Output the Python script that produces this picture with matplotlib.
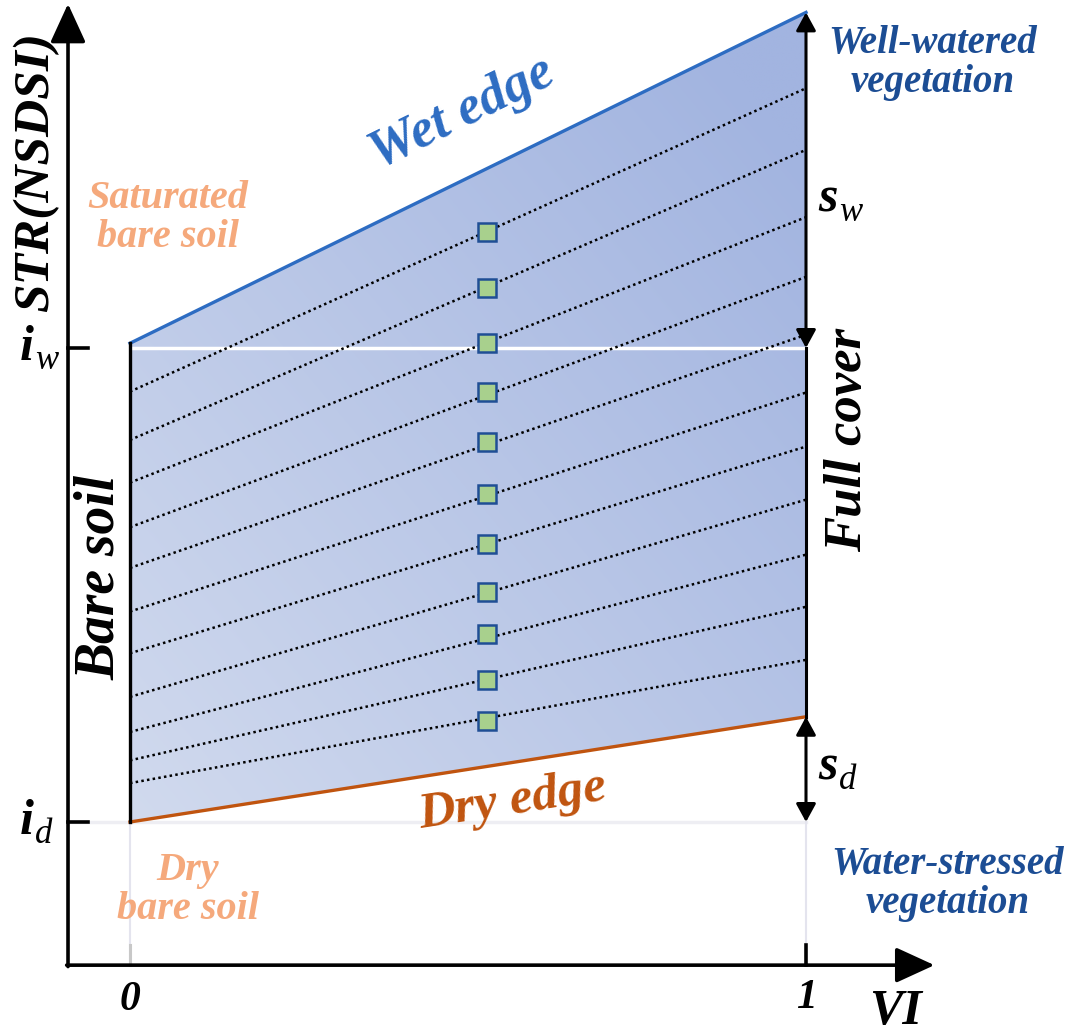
import numpy as np
import matplotlib
matplotlib.use("Agg")
import matplotlib.pyplot as plt
from matplotlib.patches import Polygon

# Trapezoid (VI on x, STR on y)
vi_edges = [0.0, 1.0]
wet_edge = [0.705, 1.054]
dry_edge = [0.200, 0.311]
i_w = 0.70
i_d = 0.20

# dotted iso-lines: value at VI=0 and VI=1
iso_left = [0.654, 0.603, 0.558, 0.511, 0.468, 0.422, 0.378, 0.332, 0.295, 0.265, 0.241]
iso_right = [0.974, 0.909, 0.838, 0.775, 0.714, 0.653, 0.596, 0.540, 0.482, 0.427, 0.371]

# green squares
sq_vi = 0.528
sq_str = [0.822, 0.763, 0.705, 0.654, 0.601, 0.546, 0.493, 0.443, 0.398, 0.350, 0.307]

# axes extents
ax_x0, ax_x1 = -0.0917, 1.19
ax_y0, ax_y1 = 0.049, 1.063

FONT = dict(family='Liberation Serif', weight='bold', style='italic')
SUBFONT = dict(family='Liberation Serif', style='italic')
SALMON = '#f5a97c'
DKBLUE = '#1c4d94'
WETBLUE = '#2d6cc2'
DRYBROWN = '#c0540f'


def px(x, y):
    # pixel position in the 1076x1034 image -> data coords (label placement only)
    return (x - 130) / 676, 0.2 + (822 - y) / 948


def sub_label(x, y, main, sub):
    ax.text(*px(x, y), main, ha='right', va='baseline', fontsize=36, **FONT)
    ax.text(*px(x + 1, y + 9), sub, ha='left', va='baseline', fontsize=25, **SUBFONT)


fig = plt.figure(figsize=(10.76, 10.34), dpi=100)
ax = fig.add_axes([0, 0, 1, 1])
ax.set_xlim(-130 / 676, 946 / 676)
ax.set_ylim(0.2 - 212 / 948, 0.2 + 822 / 948)
ax.axis('off')

# gradient fill clipped to the trapezoid
poly_pts = [(vi_edges[0], dry_edge[0]), (vi_edges[1], dry_edge[1]),
            (vi_edges[1], wet_edge[1]), (vi_edges[0], wet_edge[0])]
clip = Polygon(poly_pts, closed=True, facecolor='none', edgecolor='none')
ax.add_patch(clip)
u, v = np.meshgrid(np.linspace(0, 1, 300), np.linspace(0, 1, 300))
t = np.clip(0.55 * u + 0.55 * v, 0, 1)[..., None]
c0 = np.array([209, 218, 238]) / 255
c1 = np.array([162, 180, 224]) / 255
img = c0 + (c1 - c0) * t
im = ax.imshow(img, origin='lower', extent=[0, 1, dry_edge[0], wet_edge[1]],
               aspect='auto', interpolation='bilinear', zorder=1)
im.set_clip_path(clip)

# faint guides below the trapezoid
ax.plot([ax_x0, 1], [i_d, i_d], color='#eeeef3', lw=2.5, zorder=1)
ax.plot([0, 0], [ax_y0, i_d], color='#e4e4ee', lw=1.5, zorder=1)
ax.plot([1, 1], [ax_y0, i_d], color='#e4e4ee', lw=1.5, zorder=1)

# white i_w line
ax.plot([0, 1], [i_w, i_w], color='white', lw=2.5, zorder=2)

# dotted iso-lines
for yl, yr in zip(iso_left, iso_right):
    ax.plot(vi_edges, [yl, yr], color='black', lw=1.8,
            linestyle=(0, (1, 1.3)), zorder=3)

# edges
ax.plot(vi_edges, wet_edge, color=WETBLUE, lw=2.4, zorder=4)
ax.plot(vi_edges, dry_edge, color=DRYBROWN, lw=2.4, zorder=4)
ax.plot([0, 0], [dry_edge[0], wet_edge[0]], color='black', lw=2.4, zorder=4)

# squares
ax.plot([sq_vi] * len(sq_str), sq_str, linestyle='none', marker='s',
        markersize=13.5, markerfacecolor='#a8d08d', markeredgecolor='#1f4e95',
        markeredgewidth=1.8, zorder=5)

# full-cover double arrows
arr = dict(arrowstyle='<|-|>,head_length=0.55,head_width=0.3', color='black',
           lw=2.2, shrinkA=0, shrinkB=0, mutation_scale=20)
ax.annotate('', xy=(1, wet_edge[1]), xytext=(1, i_w), arrowprops=arr, zorder=6)
ax.plot([1, 1], [i_w, dry_edge[1]], color='black', lw=2.2, zorder=6)
ax.annotate('', xy=(1, dry_edge[1]), xytext=(1, i_d), arrowprops=arr, zorder=6)

# main axes with arrows
ax_arr = dict(arrowstyle='-|>,head_length=1.2,head_width=0.55', color='black',
              lw=2.6, shrinkA=0, shrinkB=0, mutation_scale=20)
ax.annotate('', xy=(ax_x0, ax_y1), xytext=(ax_x0, ax_y0 - 0.0015), arrowprops=ax_arr)
ax.annotate('', xy=(ax_x1, ax_y0), xytext=(ax_x0 - 0.002, ax_y0), arrowprops=ax_arr)

# ticks
tick_dx = 20 / 676
tick_dy = 20 / 948
for yv in [i_w, i_d]:
    ax.plot([ax_x0, ax_x0 + tick_dx], [yv, yv], color='black', lw=2.6)
ax.plot([0, 0], [ax_y0, ax_y0 + tick_dy], color='#c8c8c8', lw=2.2)
ax.plot([1, 1], [ax_y0, ax_y0 + tick_dy], color='black', lw=2.6)

# labels
ax.text(*px(36, 172), 'STR(NSDSI)', rotation=90, ha='center', va='center',
        fontsize=37, color='black', **FONT)
sub_label(34, 360, 'i', 'w')
sub_label(34, 834, 'i', 'd')
ax.text(*px(130, 1000), '0', ha='center', va='center', fontsize=30, **FONT)
ax.text(*px(806, 998), '1', ha='center', va='center', fontsize=30, **FONT)
ax.text(*px(895, 1024), 'VI', ha='center', va='baseline', fontsize=36, **FONT)

ax.text(*px(168, 218), 'Saturated\nbare soil', ha='center', va='center',
        fontsize=29, color=SALMON, linespacing=1.05, **FONT)
ax.text(*px(188, 890), 'Dry\nbare soil', ha='center', va='center',
        fontsize=29, color=SALMON, linespacing=1.05, **FONT)
ax.text(*px(933, 63), 'Well-watered\nvegetation', ha='center', va='center',
        fontsize=28, color=DKBLUE, linespacing=1.05, **FONT)
ax.text(*px(948, 884), 'Water-stressed\nvegetation', ha='center', va='center',
        fontsize=28, color=DKBLUE, linespacing=1.05, **FONT)

ax.text(*px(462, 114), 'Wet edge', rotation=26.1, rotation_mode='anchor',
        ha='center', va='center', fontsize=39, color=WETBLUE, **FONT)
ax.text(*px(513, 802), 'Dry edge', rotation=8.8, rotation_mode='anchor',
        ha='center', va='center', fontsize=37, color=DRYBROWN, **FONT)

ax.text(*px(100, 578), 'Bare soil', rotation=90, ha='center', va='center',
        fontsize=40, color='black', **FONT)
ax.text(*px(848, 440), 'Full cover', rotation=90, ha='center', va='center',
        fontsize=38, color='black', **FONT)

sub_label(838, 212, 's', 'w')
sub_label(838, 780, 's', 'd')

fig.savefig('out.png', dpi=100)
